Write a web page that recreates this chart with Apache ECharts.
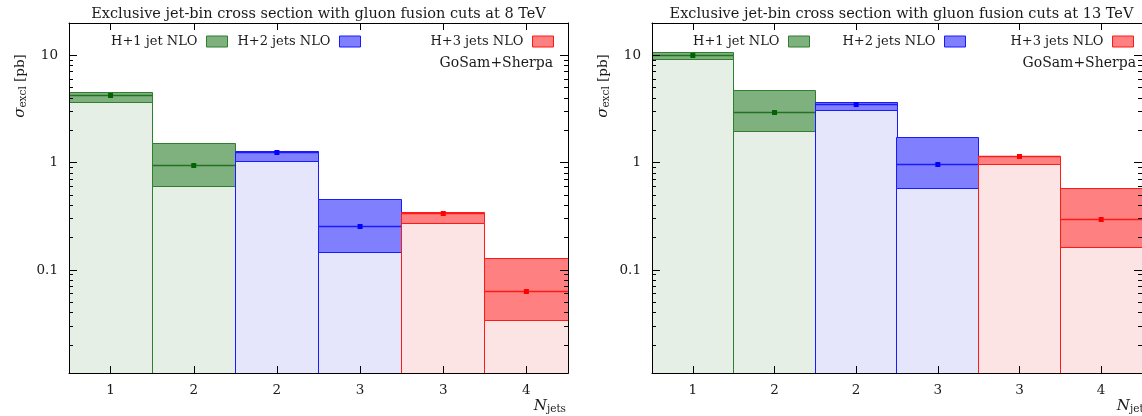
<!DOCTYPE html>
<html>
<head>
<meta charset="utf-8">
<script src="https://cdn.jsdelivr.net/npm/echarts@6/dist/echarts.min.js"></script>
<style>
  html, body { margin: 0; padding: 0; background: #fff; }
  #chart { width: 1142px; height: 416px; }
</style>
</head>
<body>
<div id="chart"></div>
<script>
// Exclusive jet bins (number of jets) shown on both panels
const binLabels = ['1', '2', '2', '3', '3', '4'];
const seriesNames = ['H+1 jet NLO', 'H+2 jets NLO', 'H+3 jets NLO'];
const panelTitles = [
  'Exclusive jet-bin cross section with gluon fusion cuts at 8 TeV',
  'Exclusive jet-bin cross section with gluon fusion cuts at 13 TeV'
];

// Each row: [bin index, scale band low, scale band high, central value] in pb
const nlo1jet8TeV = [[0, 3.67, 4.48, 4.20], [1, 0.598, 1.515, 0.938]];
const nlo2jet8TeV = [[2, 1.02, 1.28, 1.24], [3, 0.147, 0.459, 0.252]];
const nlo3jet8TeV = [[4, 0.269, 0.346, 0.339], [5, 0.0337, 0.129, 0.0630]];

const nlo1jet13TeV = [[0, 9.22, 10.64, 10.04], [1, 1.94, 4.72, 2.96]];
const nlo2jet13TeV = [[2, 3.07, 3.60, 3.52], [3, 0.578, 1.72, 0.972]];
const nlo3jet13TeV = [[4, 0.966, 1.154, 1.146], [5, 0.162, 0.578, 0.295]];

// Log axis labels and minor ticks
const yTickValues = [0.1, 1, 10];
const yTickLabels = ['0.1', '1', '10'];
const yMinorTicks = [0.02, 0.03, 0.04, 0.05, 0.06, 0.07, 0.08, 0.09,
                     0.2, 0.3, 0.4, 0.5, 0.6, 0.7, 0.8, 0.9,
                     2, 3, 4, 5, 6, 7, 8, 9];
const yMin = 0.011, yMax = 20;

const FONT = 'DejaVu Serif';
const FS = 13.5;
const TEXT = '#1a1a1a';
const W = 1142;

const palette = [
  { edge: '#2f7f2f', line: '#247024', band: '#7fb17f', light: '#e5efe5', mark: '#006400' },
  { edge: '#1a1aff', line: '#1a1aff', band: '#8080ff', light: '#e5e5fc', mark: '#0000ff' },
  { edge: '#ff1a1a', line: '#ff1a1a', band: '#ff8080', light: '#fde4e4', mark: '#ff0000' }
];

const panels = [
  { left: 69, right: 568, data: [nlo1jet8TeV, nlo2jet8TeV, nlo3jet8TeV], legendEdges: [228, 361, 554] },
  { left: 652, right: 1151, data: [nlo1jet13TeV, nlo2jet13TeV, nlo3jet13TeV], legendEdges: [810, 966, 1134] }
];
const gridTop = 23, gridBottom = 373;

function crisp(v) { return Math.round(v - 0.5) + 0.5; }

// One histogram bin: light fill up to the band, the scale band, the central line and marker
function binRenderer(c) {
  return function (params, api) {
    const cs = params.coordSys;
    const w = cs.width / binLabels.length;
    const idx = api.value(0);
    const cx = api.coord([idx, api.value(3)])[0];
    const x0 = crisp(cx - w / 2);
    const x1 = crisp(cx + w / 2);
    const yLo = crisp(api.coord([idx, api.value(1)])[1]);
    const yHi = crisp(api.coord([idx, api.value(2)])[1]);
    const yMid = crisp(api.coord([idx, api.value(3)])[1]);
    const yBase = crisp(cs.y + cs.height);
    return {
      type: 'group',
      children: [
        { type: 'rect', shape: { x: x0, y: yLo, width: x1 - x0, height: yBase - yLo },
          style: { fill: c.light, stroke: c.edge, lineWidth: 1 } },
        { type: 'rect', shape: { x: x0, y: yHi, width: x1 - x0, height: yLo - yHi },
          style: { fill: c.band, stroke: c.edge, lineWidth: 1 } },
        { type: 'line', shape: { x1: x0, y1: yMid, x2: x1, y2: yMid },
          style: { stroke: c.line, lineWidth: 1.5 } },
        { type: 'rect', shape: { x: cx - 2.5, y: yMid - 2.5, width: 5, height: 5 },
          style: { fill: c.mark } }
      ]
    };
  };
}

// Minor log ticks on both vertical frame edges
function minorTickRenderer(params, api) {
  const cs = params.coordSys;
  const y = crisp(api.coord([0, api.value(1)])[1]);
  const xl = cs.x, xr = cs.x + cs.width;
  return {
    type: 'group',
    children: [
      { type: 'line', shape: { x1: xl, y1: y, x2: xl + 4, y2: y }, style: { stroke: '#000', lineWidth: 1 } },
      { type: 'line', shape: { x1: xr - 4, y1: y, x2: xr, y2: y }, style: { stroke: '#000', lineWidth: 1 } }
    ]
  };
}

function yLabel(v) {
  const i = yTickValues.findIndex(t => Math.abs(t - v) / t < 1e-6);
  return i >= 0 ? yTickLabels[i] : '';
}

const grids = [], xAxes = [], yAxes = [], series = [], legends = [], titles = [], graphics = [];

panels.forEach((p, pi) => {
  grids.push({ left: p.left, top: gridTop, width: p.right - p.left, height: gridBottom - gridTop });

  const axisLine = { show: true, lineStyle: { color: '#000', width: 1 } };
  xAxes.push({
    type: 'category', gridIndex: pi, data: binLabels, position: 'bottom', z: 5,
    axisLine, axisTick: { show: true, inside: true, length: 7, alignWithLabel: true, interval: 0, lineStyle: { color: '#000' } },
    axisLabel: { show: true, interval: 0, margin: 10, color: TEXT, fontFamily: FONT, fontSize: FS },
    splitLine: { show: false }
  });
  xAxes.push({
    type: 'category', gridIndex: pi, data: binLabels, position: 'top', z: 5,
    axisLine, axisTick: { show: true, inside: true, length: 7, alignWithLabel: true, interval: 0, lineStyle: { color: '#000' } },
    axisLabel: { show: false }, splitLine: { show: false }
  });
  yAxes.push({
    type: 'log', logBase: 10, gridIndex: pi, min: yMin, max: yMax, position: 'left', z: 5,
    axisLine, axisTick: { show: true, inside: true, length: 8, lineStyle: { color: '#000' } },
    axisLabel: { show: true, margin: 11, color: TEXT, fontFamily: FONT, fontSize: FS, formatter: yLabel },
    splitLine: { show: false }
  });
  yAxes.push({
    type: 'log', logBase: 10, gridIndex: pi, min: yMin, max: yMax, position: 'right', z: 5,
    axisLine, axisTick: { show: true, inside: true, length: 8, lineStyle: { color: '#000' } },
    axisLabel: { show: false }, splitLine: { show: false }
  });

  p.data.forEach((rows, si) => {
    series.push({
      type: 'custom', name: seriesNames[si],
      xAxisIndex: pi * 2, yAxisIndex: pi * 2,
      renderItem: binRenderer(palette[si]),
      encode: { x: 0, y: 3 },
      data: rows, z: 2, silent: true
    });
    legends.push({
      right: W - p.legendEdges[si], top: 35, padding: 0,
      orient: 'horizontal', align: 'right', icon: 'rect',
      itemWidth: 21, itemHeight: 11, selectedMode: false,
      data: [{ name: seriesNames[si], itemStyle: { color: palette[si].band, borderColor: palette[si].edge, borderWidth: 1 } }],
      textStyle: { fontFamily: FONT, fontSize: 13, color: TEXT, padding: [0, 4, 0, 0], lineHeight: 11 }
    });
  });

  series.push({
    type: 'custom', xAxisIndex: pi * 2, yAxisIndex: pi * 2,
    renderItem: minorTickRenderer, silent: true, z: 6,
    data: yMinorTicks.map(v => [0, v])
  });

  titles.push({
    text: panelTitles[pi], left: (p.left + p.right) / 2, top: 7, textAlign: 'center', padding: 0,
    textStyle: { fontFamily: FONT, fontSize: 14.5, fontWeight: 'normal', color: TEXT }
  });

  graphics.push({
    type: 'text', x: p.right - 15, y: 63,
    style: { text: 'GoSam+Sherpa', fill: TEXT, font: '14px "' + FONT + '"', align: 'right', verticalAlign: 'middle' }
  });
  graphics.push({
    type: 'text', x: p.left - 49, y: 86, rotation: Math.PI / 2,
    style: {
      text: '{s|σ}{sub|excl}{t| [pb]}', align: 'center', verticalAlign: 'middle',
      rich: {
        s: { fontFamily: FONT, fontStyle: 'italic', fontSize: 15, lineHeight: 18, fill: TEXT },
        sub: { fontFamily: FONT, fontSize: 10.5, lineHeight: 10, verticalAlign: 'bottom', fill: TEXT },
        t: { fontFamily: FONT, fontSize: FS, lineHeight: 18, fill: TEXT }
      }
    }
  });
  graphics.push({
    type: 'text', x: p.right - 2, y: 406,
    style: {
      text: '{n|N}{sub|jets}', align: 'right', verticalAlign: 'middle',
      rich: {
        n: { fontFamily: FONT, fontStyle: 'italic', fontSize: 15, lineHeight: 18, fill: TEXT },
        sub: { fontFamily: FONT, fontSize: 10.5, lineHeight: 10, verticalAlign: 'bottom', fill: TEXT }
      }
    }
  });
});

const chart = echarts.init(document.getElementById('chart'), null, { renderer: 'canvas' });
chart.setOption({
  backgroundColor: '#fff',
  animation: false,
  title: titles,
  legend: legends,
  grid: grids,
  xAxis: xAxes,
  yAxis: yAxes,
  series: series,
  graphic: graphics
});
</script>
</body>
</html>
